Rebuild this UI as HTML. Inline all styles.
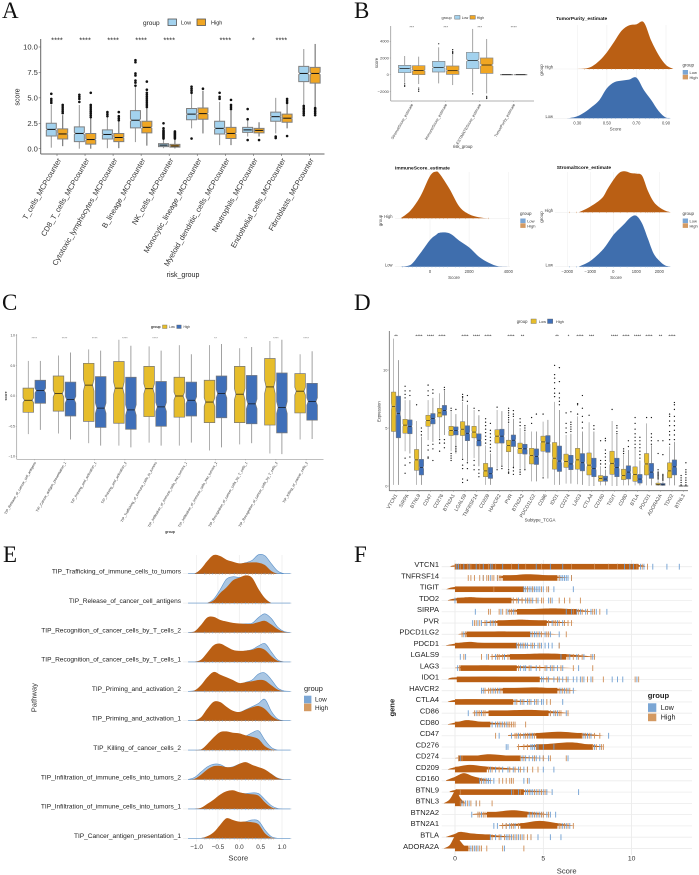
<!DOCTYPE html>
<html lang="en">
<head>
<meta charset="utf-8">
<title>Immune infiltration figure panels A-F</title>
<style>
html,body{margin:0;padding:0;background:#fff;width:699px;height:875px;overflow:hidden}
svg{display:block;font-family:"Liberation Sans",sans-serif;filter:blur(.3px)}
.pl{font-family:"Liberation Serif",serif;font-size:23px;fill:#111}
</style>
</head>
<body>
<svg id="figure" xmlns="http://www.w3.org/2000/svg" width="699" height="875" viewBox="0 0 699 875">
<rect x="0" y="0" width="699" height="875" fill="#fff"/>
<text class="pl" x="2" y="18">A</text>
<text class="pl" x="354" y="18">B</text>
<text class="pl" x="2" y="310">C</text>
<text class="pl" x="354" y="310">D</text>
<text class="pl" x="3" y="562">E</text>
<text class="pl" x="354" y="562">F</text>

<g id="panelA">
<text x="143" y="25" font-size="6.5" fill="#222">group</text>
<rect x="168" y="19" width="8.5" height="6.5" fill="#a3d2ee" stroke="#555" stroke-width=".8"/>
<text x="181" y="24.5" font-size="5.5" fill="#222">Low</text>
<rect x="197" y="19" width="8.5" height="6.5" fill="#f0a623" stroke="#555" stroke-width=".8"/>
<text x="211" y="24.5" font-size="5.5" fill="#222">High</text>
<text x="183" y="277" font-size="7" fill="#222" text-anchor="middle">risk_group</text>
<text transform="translate(19.5 97) rotate(-90)" font-size="7" fill="#222" text-anchor="middle">score</text>
</g>

<g id="panelB">
<text x="441.5" y="19" font-size="4" fill="#333">group</text>
<rect x="454.7" y="15.5" width="5.3" height="3.6" fill="#a3d2ee" stroke="#666" stroke-width=".5"/>
<text x="461.7" y="19" font-size="3.6" fill="#333">Low</text>
<rect x="470" y="15.5" width="5.3" height="3.6" fill="#f0a623" stroke="#666" stroke-width=".5"/>
<text x="476.7" y="19" font-size="3.6" fill="#333">High</text>
<text x="462.7" y="148" font-size="4.2" fill="#333" text-anchor="middle">risk_group</text>
<text transform="translate(378 63) rotate(-90)" font-size="4.2" fill="#333" text-anchor="middle">score</text>
</g>

<g id="ridgeTumor">
<text x="556" y="20" font-size="4.9" font-weight="bold" fill="#111">TumorPurity_estimate</text>
<text x="615.5" y="130.5" font-size="4.5" fill="#444" text-anchor="middle">Score</text>
<text transform="translate(543 70) rotate(-90)" font-size="4.5" fill="#444" text-anchor="middle">group</text>
<text x="682.5" y="66.5" font-size="4.5" fill="#333">group</text>
<rect x="682.7" y="70" width="5.3" height="4.6" fill="#7ba6d4"/>
<rect x="682.7" y="74.8" width="5.3" height="4.6" fill="#d49a62"/>
<text x="689.5" y="74" font-size="4" fill="#333">Low</text>
<text x="689.5" y="78.8" font-size="4" fill="#333">High</text>
</g>

<g id="ridgeImmune">
<text x="395" y="169.5" font-size="4.9" font-weight="bold" fill="#111">ImmuneScore_estimate</text>
<text x="454" y="279" font-size="4.5" fill="#444" text-anchor="middle">Score</text>
<text transform="translate(382 220.5) rotate(-90)" font-size="4.5" fill="#444" text-anchor="middle">group</text>
<text x="520" y="215" font-size="4.5" fill="#333">group</text>
<rect x="520.3" y="218.5" width="5.3" height="4.6" fill="#7ba6d4"/>
<rect x="520.3" y="223.3" width="5.3" height="4.6" fill="#d49a62"/>
<text x="527.2" y="222.5" font-size="4" fill="#333">Low</text>
<text x="527.2" y="227.3" font-size="4" fill="#333">High</text>
</g>

<g id="ridgeStromal">
<text x="556.7" y="169" font-size="4.9" font-weight="bold" fill="#111">StromalScore_estimate</text>
<text x="616" y="279" font-size="4.5" fill="#444" text-anchor="middle">Score</text>
<text transform="translate(543 217) rotate(-90)" font-size="4.5" fill="#444" text-anchor="middle">group</text>
<text x="682.5" y="215" font-size="4.5" fill="#333">group</text>
<rect x="682.7" y="218.5" width="5.3" height="4.6" fill="#7ba6d4"/>
<rect x="682.7" y="223.3" width="5.3" height="4.6" fill="#d49a62"/>
<text x="689.5" y="222.5" font-size="4" fill="#333">Low</text>
<text x="689.5" y="227.3" font-size="4" fill="#333">High</text>
</g>

<g id="panelC">
<text x="151" y="328" font-size="3.4" font-weight="bold" fill="#333">group</text>
<rect x="162.5" y="325" width="4.5" height="3.5" fill="#e6bd2b" stroke="#666" stroke-width=".4"/>
<text x="169" y="328" font-size="3.2" fill="#333">Low</text>
<rect x="176.7" y="325" width="4.5" height="3.5" fill="#3f6fb9" stroke="#666" stroke-width=".4"/>
<text x="183.5" y="328" font-size="3.2" fill="#333">High</text>
<text x="170" y="533" font-size="3.4" font-weight="bold" fill="#333" text-anchor="middle">group</text>
<text transform="translate(7 396) rotate(-90)" font-size="3.4" font-weight="bold" fill="#333" text-anchor="middle">score</text>
</g>

<g id="panelD">
<text x="516.7" y="323" font-size="4.2" fill="#333">group</text>
<rect x="531" y="319" width="5.3" height="4.5" fill="#e6bd2b" stroke="#666" stroke-width=".4"/>
<text x="539" y="323" font-size="3.8" fill="#333">Low</text>
<rect x="547.5" y="319" width="5.3" height="4.5" fill="#3f6fb9" stroke="#666" stroke-width=".4"/>
<text x="556" y="323" font-size="3.8" fill="#333">High</text>
<text x="540" y="521.5" font-size="4.4" fill="#333" text-anchor="middle">Subtype_TCGA</text>
<text transform="translate(380.5 411.7) rotate(-90)" font-size="4.2" fill="#333" text-anchor="middle">Expression</text>
</g>

<g id="panelE">
<text x="238.3" y="860.5" font-size="7.6" fill="#333" text-anchor="middle">Score</text>
<text transform="translate(36.5 697.7) rotate(-90)" font-size="7.6" fill="#333" text-anchor="middle">Pathway</text>
<text x="304" y="691" font-size="7.4" fill="#222">group</text>
<rect x="304" y="695.7" width="7.4" height="7.6" fill="#7ba6d4"/>
<rect x="304" y="703.6" width="7.4" height="7.6" fill="#d49a62"/>
<text x="315" y="701.7" font-size="6.4" fill="#222">Low</text>
<text x="315" y="709.8" font-size="6.4" fill="#222">High</text>
</g>

<g id="panelF">
<text x="566.7" y="873.5" font-size="7.6" fill="#333" text-anchor="middle">Score</text>
<text transform="translate(394.5 707.7) rotate(-90)" font-size="7.6" font-weight="bold" fill="#222" text-anchor="middle">gene</text>
<text x="647.7" y="698" font-size="7.6" font-weight="bold" fill="#222">group</text>
<rect x="648" y="703.3" width="8.3" height="8.6" fill="#7ba6d4"/>
<rect x="648" y="712.6" width="8.3" height="8.6" fill="#d49a62"/>
<text x="660.7" y="710.2" font-size="7.2" fill="#222">Low</text>
<text x="660.7" y="719.5" font-size="7.2" fill="#222">High</text>
</g>
</svg>

<script>
/* ---------- Panel A data: [lower whisker, Q1, median, Q3, upper whisker] ---------- */
const aCategories = ["T_cells_MCPcounter","CD8_T_cells_MCPcounter","Cytotoxic_lymphocytes_MCPcounter","B_lineage_MCPcounter","NK_cells_MCPcounter","Monocytic_lineage_MCPcounter","Myeloid_dendritic_cells_MCPcounter","Neutrophils_MCPcounter","Endothelial_cells_MCPcounter","Fibroblasts_MCPcounter"];
const aLowStats = [[0.1,1.25,1.9,2.5,4.3],[0,0.7,1.5,2.15,4.3],[0.05,0.95,1.4,1.85,3.1],[0.65,2.05,2.8,3.75,6.1],[0.05,0.2,0.35,0.5,1],[2,2.85,3.4,3.95,5.4],[0.35,1.45,2,2.7,4.6],[1.2,1.6,1.85,2.1,2.8],[1.5,2.7,3.15,3.6,5],[4.3,6.6,7.4,8.1,9.8]];
const aHighStats = [[0.25,0.95,1.45,1.95,3.3],[0,0.45,0.9,1.5,3],[0.05,0.7,1.1,1.5,2.7],[0.3,1.55,2.1,2.7,4],[0.03,0.15,0.27,0.42,0.9],[1.5,2.9,3.45,4,5.7],[0.35,1,1.5,2.1,3.8],[1.2,1.55,1.8,2,2.6],[2,2.6,3,3.4,4.4],[4.1,6.45,7.4,8,10.3]];
const aLowOutliers = [[4.5,4.7,4.9,5.4],[4.6,4.9,5.1,5.3],[3.2,3.4,3.6],[6.2,6.5,6.7,7.2,7.4,8.5,8.7],[1,1.1,1.2,1.3,1.4,1.5,1.6,1.7,1.8,2,2.5],[1,5.5,5.7,5.9,6.1],[4.9,5.1,5.5],[0.85,2.9,3.9],[1.05,1.2],[3.3,3.5,3.7,3.9,4,4.2]];
const aHighOutliers = [[3.5,3.7,3.9,4.1,4.3],[3.1,3.3,3.5,3.7,3.9,4.1,4.3,5.5],[2.8,3,3.2,3.6],[4.1,4.3,4.5,4.7,4.9,5.1,5.3,5.5,5.8,6.6],[1,1.1,1.2,1.3,1.4,1.5,1.6,1.7],[5.9],[3.9,4.1,4.3,4.8],[0.85],[1.25,4.5,4.7,4.9],[3.3,3.5,3.7,3.9,4]];
const aStars = ["****","****","****","****","****","","****","*","****",""];
const aYTicks = [0,2.5,5,7.5,10];
const aYLabels = ["0.0","2.5","5.0","7.5","10.0"];

/* ---------- Panel B box data ---------- */
const bCategories = ["StromalScore_estimate","ImmuneScore_estimate","ESTIMATEScore_estimate","TumorPurity_estimate"];
const bLowStats = [[-960,240,760,1120,2240],[-1040,320,880,1600,3280],[-2040,720,1720,2680,5480],[-40,-30,0,30,40]];
const bHighStats = [[-1120,0,520,1080,2160],[-1240,40,480,1040,2360],[-2240,160,1160,2000,4280],[-40,-30,0,30,40]];
const bLowOutliers = [[-1100,-1300,-1400],[3700],[-2300],[]];
const bHighOutliers = [[-1600,-1800,-2000],[2500,2600,2700,2800,3000],[-2600,-2750,-2850],[]];
const bStars = ["***","***","***","****"];
const bYTicks = [-2000,0,2000,4000];
const bYLabels = ["\u22122000","0","2000","4000"];

/* ---------- Panel B ridge data ---------- */
const tumorScores = [0.2,0.25,0.3,0.35,0.4,0.45,0.5,0.55,0.6,0.65,0.7,0.75,0.8,0.85,0.9,0.95];
const tumorLow = [0,1,6,18,35,55,90,108,113,116,122,85,55,22,2,0];
const tumorHigh = [0,0,0,1,8,25,50,82,115,131,134,140,85,42,12,0];
const tumorTicks = [0.3,0.5,0.7,0.9];
const tumorTickLabels = ["0.30","0.50","0.70","0.90"];
const tumorRug = [0.35,0.38,0.41,0.44,0.47,0.5,0.53,0.56,0.6,0.64,0.68,0.72,0.76,0.79,0.82,0.85,0.88,0.92];
const immuneScores = [-1500,-1000,-500,0,300,500,1000,1500,2000,2500,3000,3500,4000];
const immuneLow = [0,5,40,80,95,102,100,78,58,30,12,1,0];
const immuneHigh = [0,23,65,127,140,133,88,35,12,3,0,0,0];
const immuneTicks = [0,2000,4000];
const immuneTickLabels = ["0","2000","4000"];
const immuneRug = [-1400,-1100,-900,-700,-500,-300,-100,100,300,500,700,900,1300,1500,1800,2200,2500,3000];
const stromalScores = [-1500,-1000,-500,-250,0,250,500,750,1000,1250,1500,1750,2000,2250,2500];
const stromalLow = [0,17,48,70,95,113,130,148,153,130,85,40,18,4,0];
const stromalHigh = [0,17,42,70,97,118,123,118,116,110,65,32,15,5,0];
const stromalTicks = [-2000,-1000,0,1000,2000];
const stromalTickLabels = ["\u22122000","\u22121000","0","1000","2000"];
const stromalRug = [-1900,-1600,-1300,-1100,-900,-600,-300,0,300,600,900,1200,1400,1500,1600,1700,1800,2000];

/* ---------- Panel C data ---------- */
const cCategories = ["TIP_Release_of_cancer_cell_antigens","TIP_Cancer_antigen_presentation_1","TIP_Priming_and_activation_1","TIP_Priming_and_activation_2","TIP_Trafficking_of_immune_cells_to_tumors","TIP_Infiltration_of_immune_cells_into_tumors_1","TIP_Infiltration_of_immune_cells_into_tumors_2","TIP_Recognition_of_cancer_cells_by_T_cells_1","TIP_Recognition_of_cancer_cells_by_T_cells_2","TIP_Killing_of_cancer_cells_2"];
const cLowStats = [[-0.63,-0.27,-0.07,0.13,0.58],[-0.62,-0.25,0.04,0.33,0.67],[-0.78,-0.42,0.18,0.54,0.77],[-0.82,-0.45,0.13,0.57,0.93],[-0.77,-0.34,0.12,0.49,0.82],[-0.82,-0.35,0,0.31,0.84],[-0.9,-0.44,-0.1,0.26,0.84],[-0.8,-0.44,0.03,0.49,0.79],[-0.95,-0.48,0.15,0.62,0.91],[-0.72,-0.28,0.08,0.37,0.69]];
const cHighStats = [[-0.56,-0.12,0.09,0.26,0.58],[-0.72,-0.33,-0.06,0.23,0.72],[-0.82,-0.52,-0.2,0.32,0.75],[-0.85,-0.55,-0.23,0.31,0.83],[-0.82,-0.5,-0.18,0.24,0.75],[-0.77,-0.33,-0.07,0.23,0.69],[-0.85,-0.36,0.04,0.33,0.86],[-0.78,-0.46,-0.13,0.34,0.81],[-0.96,-0.61,-0.19,0.38,0.93],[-0.71,-0.4,-0.09,0.21,0.74]];
const cStars = ["****","****","****","****","****","","**","**","****","****"];
const cYTicks = [-1,-0.5,0,0.5,1];
const cYLabels = ["\u22121.0","\u22120.5","0.0","0.5","1.0"];

/* ---------- Panel D data ---------- */
const dCategories = ["VTCN1","SIRPA","BTNL9","CD47","CD276","BTN2A1","LGALS9","TNFRSF14","CD209","HAVCR2","PVR","BTN2A2","PDCD1LG2","CD86","IDO1","CD274","LAG3","CTLA4","CD160","TIGIT","CD80","BTLA","PDCD1","ADORA2A","TDO2","BTNL3"];
const dLowStats = [[0.1,4.7,6.85,8.1,12.7],[3,4.55,5.25,5.75,7.4],[0.1,1.35,2.25,3.15,5.6],[3.95,5.15,5.65,6.1,7.4],[4.1,5.95,6.3,6.7,8],[3,4.35,4.8,5.15,6.4],[2.4,4.35,4.9,5.55,7.25],[2.4,4.15,4.65,5.15,6.55],[0.1,0.8,1.3,1.95,3.5],[1.5,3.7,4.3,4.85,6.55],[1.5,2.95,3.5,3.95,5.4],[1.5,2.8,3.25,3.7,5],[0.4,1.9,2.65,3.25,4.7],[0.8,3,3.8,4.3,5.55],[0.1,1.45,2.4,3.75,7.25],[0.2,1.6,2.1,2.75,4.4],[0.15,1.45,2.25,3.25,6],[0,0.95,1.8,2.85,5.5],[0.05,0.4,0.65,0.9,1.7],[0,1,1.95,3,5.6],[0.05,0.55,0.9,1.45,2.7],[0.05,0.4,1,1.65,3.2],[0.05,0.95,1.9,2.8,5.4],[0,0.08,0.15,0.25,0.5],[0.05,0.7,1.3,2,3.4],[0,0,0,0,0.05]];
const dHighStats = [[0.1,4.15,6.25,7.75,10.85],[2.8,4.5,5.15,5.7,7.4],[0.1,0.95,1.6,2.3,4.25],[3.8,5.35,5.8,6.25,7.6],[4.4,6.1,6.5,6.95,8.2],[2.8,4.4,4.8,5.1,6.2],[2.1,3.9,4.55,5.2,7],[1.7,3.45,3.95,4.5,6.1],[0.1,0.65,1.05,1.6,2.8],[1.7,3.7,4.3,4.9,6.45],[1.5,3.4,3.95,4.4,5.8],[1.4,2.75,3.2,3.6,4.7],[0.4,1.85,2.55,3.2,4.7],[0.65,2.9,3.7,4.35,5.7],[0.1,1.25,2.15,3.45,6.55],[0.2,1.4,1.9,2.65,4.5],[0.1,1.3,2,2.8,4.7],[0,0.8,1.5,2.4,4.7],[0.05,0.4,0.6,0.85,1.4],[0,0.8,1.6,2.4,4.4],[0.05,0.6,1.2,1.75,3.1],[0.05,0.25,0.6,1,2.2],[0.05,0.65,1.2,1.95,3.5],[0,0.05,0.15,0.22,0.4],[0.05,0.95,1.65,2.25,3.8],[0,0,0,0,0.05]];
const dLowOutliers = [[],[7.6,7.9,8.2,8.6,1.1,1.8,2.4],[7],[7.8,8.2,8.7,3.5,3.1,2.4,2.5],[3,3.7,4],[6.7,6.5,2.2,2.4,2.6,2.8],[7.4,7.6,7.7,7.9,0.3,0.6,1.5,1.8,2.3],[6.7,1.4,1.8,2.2],[3.7,4,4.3,4.6,4.9,5.2,5.5,5.8],[6.8,1.4],[5.5,5.7,5.9,6.1,6.3,6.5,6.7,1.1,1.2,1.4],[5.2,5.5,5.8,1.4,1.2,1],[5.4,5.9],[0.7,6.2],[7.7,8,8.4,8.9,9.3,9.6,10.4],[4.6,5,5.4,6.3],[6.2,7,7.1],[6.1],[1.9,2.2,3.9],[6.6],[2.8,3,3.2],[3.3,3.6,3.9,4.2,4.5,4.9,5.4,5.9],[5.9],[0.6,0.7,0.8,0.9,1,1.1,1.2,1.4,2.8,3.9],[3.6,4,4.4,4.7,5.2,5.6,6,6.2],[0.1,0.3,0.5,0.7,0.9]];
const dHighOutliers = [[],[7.8,8.2,2,2.5],[4.4,4.7,5],[8,8.3,3.6,3.2,2.2],[8.3,8.5,3.3,3.7,4],[6.6,3,3.2,3.4],[7.3,7.8,0.5,2,1.5],[6.5,0.8,1.1,1.4],[3,3.3,3.6,3.9,4.2,4.5,4.8,5.4],[1.5,1.7],[6,6.2,6.5,1,1.3,1.6],[4.8,5,5.2,1.4],[6.2],[],[7,7.3,7.6,8,9,10.2],[4.7,4.9,5.1,5.3,5.5,6.4],[5,5.5,6,6.7,7.8],[4.9,5.2],[1.6,1.9,2.2,2.5,2.8,3.1,3.9,4.1],[4.5,4.7,5,5.2],[3.4,3.9],[2.4,2.7,3,3.3,3.6,3.9,4.2],[3.6,3.9,4.2,4.5,5.9],[0.5,0.6,0.7,0.8,0.9,1,2.7,3.9],[4,4.4,4.8,5.2,5.6,6,6.6,7,7.2],[0.1,0.3,0.5,0.7,1,1.2,1.4,2]];
const dStars = ["**","","****","****","****","","****","****","****","","****","**","","","**","*","****","***","","****","****","****","****","**","****",""];
const dYTicks = [0,5,10];
const dYLabels = ["0","5","10"];

/* ---------- Panel E data ---------- */
const eCategories = ["TIP_Trafficking_of_immune_cells_to_tumors","TIP_Release_of_cancer_cell_antigens","TIP_Recognition_of_cancer_cells_by_T_cells_2","TIP_Recognition_of_cancer_cells_by_T_cells_1","TIP_Priming_and_activation_2","TIP_Priming_and_activation_1","TIP_Killing_of_cancer_cells_2","TIP_Infiltration_of_immune_cells_into_tumors_2","TIP_Infiltration_of_immune_cells_into_tumors_1","TIP_Cancer_antigen_presentation_1"];
const eScores = [-1.2,-1.05,-0.9,-0.75,-0.6,-0.45,-0.3,-0.15,0,0.15,0.3,0.45,0.6,0.75,0.9,1.05,1.2];
const eLowDensity = [
[0,0,12,34,52,50,40,33,29,33,40,57,54,30,8,0,0],
[0,0,0,0,12,40,72,79,77,80,72,40,13,0,0,0,0],
[0,2,20,42,45,36,31,27,26,26,28,45,56,42,16,3,0],
[0,0,5,25,47,52,43,34,31,33,37,48,55,30,6,0,0],
[0,2,15,38,53,47,38,30,22,27,34,52,55,35,10,1,0],
[0,0,8,32,53,52,38,28,25,33,42,52,64,28,5,0,0],
[0,0,1,15,34,50,52,50,49,43,52,58,30,8,0,0,0],
[0,6,22,38,46,45,36,38,46,50,42,35,28,16,4,0,0],
[0,0,2,12,24,40,50,52,48,46,48,46,28,10,1,0,0],
[0,0,0,5,15,35,57,52,47,50,55,52,25,5,0,0,0]];
const eHighDensity = [
[0,0,14,38,56,53,42,36,31,33,34,33,26,8,0,0,0],
[0,0,0,0,8,30,47,68,76,83,76,42,15,0,0,0,0],
[0,3,22,45,47,38,33,29,27,26,26,31,35,24,10,2,0],
[0,0,6,28,50,55,46,36,33,34,36,42,36,17,3,0,0],
[0,2,18,42,58,50,42,34,25,27,30,34,32,18,5,0,0],
[0,0,10,36,57,56,42,30,26,33,40,44,35,15,3,0,0],
[0,0,1,18,38,54,56,52,50,44,40,33,12,2,0,0,0],
[0,2,14,30,40,41,37,38,47,52,44,37,30,17,4,0,0],
[0,0,3,15,28,43,53,56,50,46,44,40,20,5,0,0,0],
[0,0,0,6,18,40,60,55,50,50,48,42,15,2,0,0,0]];
const eRug = [-0.82,-0.78,-0.7,-0.62,-0.55,-0.47,-0.4,-0.33,-0.22,-0.12,-0.05,0.06,0.14,0.22,0.31,0.38,0.46,0.52,0.58,0.62,0.68,0.72,0.76,0.8];
const eXTicks = [-1,-0.5,0,0.5,1];
const eXLabels = ["\u22121.0","\u22120.5","0.0","0.5","1.0"];

/* ---------- Panel F data ---------- */
const fGenes = ["VTCN1","TNFRSF14","TIGIT","TDO2","SIRPA","PVR","PDCD1LG2","PDCD1","LGALS9","LAG3","IDO1","HAVCR2","CTLA4","CD86","CD80","CD47","CD276","CD274","CD209","CD160","BTNL9","BTNL3","BTN2A2","BTN2A1","BTLA","ADORA2A"];
const fBandRanges = [[0,10.4],[2.7,5.8],[0,3.9],[0.1,3.2],[3.5,6.9],[2.4,5.2],[0.65,4.25],[0,3.5],[3.1,6.3],[0.3,3.5],[0.1,4.8],[2.7,5.8],[0,3.3],[1.9,5.3],[0,2],[4.6,7.2],[4.6,7.8],[0.2,3.7],[0,1.8],[0,1.4],[0.05,3.9],[0,0.35],[1.8,4.1],[3.7,5.8],[0,2],[0,0.75]];
const fRugLow = [
[0.1,0.2,0.5,0.8,1.2,1.6,2,2.1,2.7,3.6,4.6,5.4,6.1,9.6,9.9,10.1,10.5,10.7,11.2,12,12.7],
[1.6,2,2.4,5.9,6,6.1,6.2,6.3,6.4,6.6],
[3.9,4,4.1,4.2,4.3,4.4,4.5,4.6,4.7,4.8,5,5.3,5.6,6.7],
[0,3.3,3.6,3.8,4,4.2,4.4,4.7,5.3,5.5],
[1.15,2.6,3,3.3,6.3,6.6,6.9,7.1,7.4,7.7,8,8.6],
[1,1.3,1.5,1.8,2,2.2,5.3,5.5,5.8,6.1],
[0.5,4.3,4.5,4.6,4.8,5.1,5.4,5.9],
[3.5,3.7,3.8,4,4.1,4.3,4.5,4.7,4.9,5.1,5.3,5.5,5.9],
[0.3,0.6,1.8,2.3,2.8,6,6.5,6.9,7.3,7.8],
[0.15,3.7,3.9,4,4.3,4.6,5.2,5.4,5.6,5.8,6.1,7],
[4.9,5,5.3,5.6,5.9,6.1,6.4,6.7,6.9,7.1,7.3,7.7,8.9,9.2,9.5,10.3],
[1.5,1.6,2.1,2.3,2.5,6,6.2,6.4,6.7],
[3.4,3.7,3.9,4.1,4.3,4.5,4.7,4.9,5,6.1],
[0.75,1.2,1.5,5.4,5.6,5.8,6.3],
[2.1,2.3,2.5,2.7,2.9,3],
[2.5,3.2,3.6,3.9,4.2,4.4,7.3,7.5,7.7,8.7],
[2.9,3,4.3,4.4,4.5,4.7,5,5.6,7.9,8.2],
[0.3,3.8,4,4.2,4.4,4.6,4.8,5,5.3,6.4],
[2,2.3,2.7,3,3.3,3.6,3.9,4.1,5,5.6],
[1.4,1.5,1.6,1.7,1.8,1.9,2,2.2,3.9,4.2],
[3.2,3.6,4,4.1,4.3,4.4,4.6,4.8,5,5.2,5.5,7],
[0.4,0.6,0.8,1.2],
[0.95,1.3,1.5,4.2,4.4,4.6,4.8,5,5.2,5.4,5.7],
[2.2,2.4,2.9,3.1,3.4,5.9,6.1,6.3,6.5],
[2,2.3,2.6,2.9,3,3.2,3.4,3.6,3.8,4.3,4.7,5.4,6],
[0.9,1,1.1,1.2,1.3,2.8]];
const fRugHigh = [
[0,0.3,0.7,0.9,1.4,1.9,2.3,3.2,4,4.9,6.6,7.9,8.7,9.2,10.3,10.6,10.9],
[0.75,0.9,1.1,1.4,1.6,1.8,1.9,2.1,2.2,2.4,2.5,2.6,5.9,6.6],
[2.2,4.1,4.4,4.9,5.2,5.3],
[3.3,3.5,3.8,4.1,4.3,4.6,4.9,5,5.4,5.9,6.2,6.5,7.1],
[1.9,2,2.5,2.7,2.9,3.1,3.2,3.4,6.7,7,7.2,7.5,7.8,7.9,8.2],
[1.1,1.2,1.4,1.7,2.1,2.3,5.3,5.6,5.7,5.9,6.2,6.4,6.6],
[0.4,0.6,4.4,4.7,4.9,5.2,5.3,6.3],
[3.6,3.9,4.4,4.8,5.9],
[0.5,1.5,1.9,2.1,2.4,2.5,2.7,3,6.4,6.7,7,7.2,7.7,7.9],
[0.25,3.6,4.2,4.8,5.1,5.5,6,6.7,7.8],
[5.2,5.8,6.3,7.2,7.5,7.8,8.4,10.2,10.4],
[1.7,1.9,2,2.2,2.4,2.6,5.9,6.1,6.3,6.5],
[3.5,3.8,4.2,4.6,5.2,5.4],
[1.1,1.3,1.4,1.6,1.7,5.4,5.7,5.9,6,6.4],
[2.4,2.6,2.8,3,3.1,3.2,3.3,3.4,4],
[2.3,3.4,3.5,3.7,4,4.1,4.3,4.5,7.2,7.4,7.6,7.9,8.2],
[3.6,3.9,4.1,4.6,7.8,8,8.3,8.4],
[0.2,0.4,3.7,3.9,4.5,5,5.4,6.3],
[1.9,2.1,2.5,3.1,3.4,3.7,4.1,4.4,4.7],
[1.5,1.7,2.5,2.7,2.9,3.1,3.2,3.3,4.1],
[0.3,3.3,3.7,4.2,4.5,4.7,4.9,5.1],
[0.3,0.5,0.7,0.9,1.2,1.4,2.1],
[1.3,1.4,1.6,1.7,4.3,4.5,4.7,4.9,5,5.3],
[2.7,2.9,3.2,3.3,3.6,5.9,6,6.2,6.4,6.7],
[2.1,2.5,2.8,3.1,3.3,3.5,3.7,3.9,4.1,4.3],
[0.8,1,1.2,1.4,1.5,1.8,2.7,3.9]];
const fDensity = [
[[-0.3,0],[0.5,6],[5,7],[10,6],[10.8,0]],
[[2.5,5],[3.3,8],[4,11],[4.7,10],[5.5,6],[6.5,0]],
[[-0.5,0],[0,7],[1,7],[3,5],[5,0]],
[[-0.4,1],[0,6],[0.8,10],[1.5,8],[3,5],[5,0]],
[[3,4],[4,7],[5.3,10],[6.5,8],[8,0]],
[[1.5,2],[2.5,7],[3.5,10],[4.2,9],[5.5,5],[6.8,0]],
[[0.2,1],[1,6],[2.7,9],[4,5],[6,0]],
[[-0.5,1],[0,6],[0.8,11],[1.5,8],[3,5],[5,0]],
[[2,2],[3,6],[5,10],[6.5,7],[8,0]],
[[0,1],[1,7],[2,8],[4,5],[7,0]],
[[-0.4,1],[0,6],[2,8],[4,5],[7,0]],
[[1.5,2],[3,7],[4.5,10],[5.5,7],[7,0]],
[[-0.4,1],[0,6],[1,8],[3,5],[5,0]],
[[1,2],[2.5,7],[4,10],[5,8],[6.5,0]],
[[-0.4,1],[0.2,8],[0.7,13],[1.5,8],[2.5,4],[3.5,0]],
[[3,2],[4.5,7],[5.8,12],[7,8],[8.5,0]],
[[3.5,2],[5,8],[6.5,14],[7.5,8],[8.5,0]],
[[0,1],[1,6],[2,12],[3.5,5],[5.5,0]],
[[-0.4,1],[0,7],[0.8,14],[1.6,10],[2.5,6],[4.2,0]],
[[-0.5,2],[0,12],[0.5,23],[1,14],[1.6,6],[2.2,0]],
[[-0.3,2],[0.2,7],[2,7],[4,5],[5.5,0]],
[[-0.65,0],[-0.3,12],[0,39],[0.1,40],[0.3,16],[0.6,0]],
[[1,2],[2,6],[3.2,13],[4.2,8],[5.5,0]],
[[2.5,2],[3.8,8],[4.8,15],[5.8,8],[6.8,0]],
[[-0.5,1],[0,10],[0.3,16],[1,11],[2,7],[3.5,0]],
[[-0.65,0],[-0.3,10],[0.05,40],[0.3,22],[0.6,5],[1,0]]];
const fXTicks = [0,5,10];
const fXLabels = ["0","5","10"];

/* ---------- helpers ---------- */
const NS = "http://www.w3.org/2000/svg";
function mk(tag, attrs, parent, txt){
  const el = document.createElementNS(NS, tag);
  for (const k in attrs) el.setAttribute(k, attrs[k]);
  if (txt !== undefined) el.textContent = txt;
  parent.appendChild(el);
  return el;
}
function linear(d0, d1, r0, r1){ return v => r0 + (v - d0) * (r1 - r0) / (d1 - d0); }

function smoothArea(points, base){
  let d = "M" + points[0][0] + "," + base + "L" + points[0][0] + "," + points[0][1];
  for (let i = 0; i < points.length - 1; i++){
    const p0 = points[Math.max(i - 1, 0)], p1 = points[i], p2 = points[i + 1], p3 = points[Math.min(i + 2, points.length - 1)];
    const c1x = p1[0] + (p2[0] - p0[0]) / 6, c1y = Math.min(base, p1[1] + (p2[1] - p0[1]) / 6);
    const c2x = p2[0] - (p3[0] - p1[0]) / 6, c2y = Math.min(base, p2[1] - (p3[1] - p1[1]) / 6);
    d += "C" + c1x + "," + c1y + " " + c2x + "," + c2y + " " + p2[0] + "," + p2[1];
  }
  return d + "L" + points[points.length - 1][0] + "," + base + "Z";
}

function drawBoxSeries(parent, stats, outliers, st, xOf, y){
  stats.forEach((s, i) => {
    const g = mk("g", {}, parent);
    
    
    const x = xOf(i), w = st.w;
    const wh = mk("line", {x1:x, x2:x, y1:y(s[0]), y2:y(s[4]), stroke:st.whisker, "stroke-width":st.whiskerW}, g);
    
    
    const iqr = s[3] - s[1];
    const nU = Math.min(s[3], s[2] + iqr * st.notch), nL = Math.max(s[1], s[2] - iqr * st.notch);
    const ins = w * st.inset;
    const d = "M" + (x - w / 2) + "," + y(s[3]) + "H" + (x + w / 2) + "V" + y(nU) + "L" + (x + w / 2 - ins) + "," + y(s[2]) +
      "L" + (x + w / 2) + "," + y(nL) + "V" + y(s[1]) + "H" + (x - w / 2) + "V" + y(nL) + "L" + (x - w / 2 + ins) + "," + y(s[2]) +
      "L" + (x - w / 2) + "," + y(nU) + "Z";
    const body = mk("path", {d:d, fill:st.fill, stroke:st.stroke, "stroke-width":st.strokeW}, g);
    
    
    const med = mk("line", {x1:x - w / 2 + ins, x2:x + w / 2 - ins, y1:y(s[2]), y2:y(s[2]), stroke:"#111", "stroke-width":st.medianW}, g);
    
    
    (outliers[i] || []).forEach(o => {
      const c = mk("circle", {cx:x, cy:y(o), r:st.outR, fill:"#111"}, g);
      
      
    });
  });
}

function drawBoxPanel(id, c, cats, low, high, lowOut, highOut, stars, yTicks, yLabels){
  const root = document.getElementById(id);
  const y = linear(c.d0, c.d1, c.r0, c.r1);
  const xCat = i => c.x0 + i * c.step;
  const xAxis = mk("line", {x1:c.axisX, x2:c.axisRight, y1:c.axisY, y2:c.axisY, stroke:c.axisColor, "stroke-width":c.axisW}, root);
  
  
  const yAxis = mk("line", {x1:c.axisX, x2:c.axisX, y1:c.axisTop, y2:c.axisY, stroke:c.axisColor, "stroke-width":c.axisW}, root);
  
  
  yTicks.forEach((t, i) => {
    const tk = mk("line", {x1:c.axisX - c.tick, x2:c.axisX, y1:y(t), y2:y(t), stroke:c.axisColor, "stroke-width":c.axisW * .6}, root);
    
    
    const tl = mk("text", {x:c.axisX - c.tick - .8, y:y(t) + c.yFont * .35, "font-size":c.yFont, fill:c.textColor, "text-anchor":"end"}, root, yLabels[i]);
    
    
  });
  cats.forEach((n, i) => {
    const x = xCat(i);
    const tk = mk("line", {x1:x, x2:x, y1:c.axisY, y2:c.axisY + c.tick, stroke:c.axisColor, "stroke-width":c.axisW * .6}, root);
    
    
    const lx = x + c.labelDx, ly = c.axisY + c.labelDy;
    const tl = mk("text", {x:lx, y:ly, "font-size":c.xFont, fill:c.textColor, "text-anchor":"end", transform:"rotate(" + c.angle + " " + lx + " " + ly + ")"}, root, n);
    
    
    if (stars[i]) {
      const st = mk("text", {x:x, y:c.starY, "font-size":c.starFont, fill:c.starColor, "text-anchor":"middle"}, root, stars[i]);
      
      
    }
  });
  const gl = mk("g", {}, root);
  
  
  drawBoxSeries(gl, low, lowOut, Object.assign({}, c.box, {fill:c.lowFill, whisker:c.lowWhisker}), i => xCat(i) - c.off, y);
  const gh = mk("g", {}, root);
  
  
  drawBoxSeries(gh, high, highOut, Object.assign({}, c.box, {fill:c.highFill, whisker:c.highWhisker}), i => xCat(i) + c.off, y);
}

const noOutliers = [];

drawBoxPanel("panelA", {d0:0,d1:10,r0:148.7,r1:47,x0:57,step:28.05,off:5.7,axisX:40.7,axisRight:324.5,axisY:154,axisTop:39,axisColor:"#666",axisW:1,tick:2,yFont:7.6,xFont:7.5,textColor:"#333",angle:-60,labelDx:4.5,labelDy:6,starY:42.5,starFont:7.5,starColor:"#222",lowFill:"#a3d2ee",highFill:"#f0a623",lowWhisker:"#a0a0a0",highWhisker:"#6e6e6e",box:{w:10,stroke:"#808080",strokeW:1,whiskerW:1.1,medianW:1,notch:.08,inset:.12,outR:1.3}},
  aCategories, aLowStats, aHighStats, aLowOutliers, aHighOutliers, aStars, aYTicks, aYLabels);

drawBoxPanel("panelB", {d0:0,d1:4000,r0:74.7,r1:41.3,x0:411.7,step:34,off:7,axisX:390.7,axisRight:534,axisY:101,axisTop:26,axisColor:"#999",axisW:.8,tick:1,yFont:4,xFont:3.9,textColor:"#444",angle:-60,labelDx:1.7,labelDy:3.6,starY:28.5,starFont:4,starColor:"#666",lowFill:"#a3d2ee",highFill:"#f0a623",lowWhisker:"#8f8f8f",highWhisker:"#8f8f8f",box:{w:12.5,stroke:"#888",strokeW:.7,whiskerW:.8,medianW:.7,notch:.08,inset:.12,outR:.6}},
  bCategories, bLowStats, bHighStats, bLowOutliers, bHighOutliers, bStars, bYTicks, bYLabels);

drawBoxPanel("panelC", {d0:0,d1:1,r0:396,r1:335.5,x0:34.3,step:30.2,off:6,axisX:16.7,axisRight:323.5,axisY:459.3,axisTop:334,axisColor:"#999",axisW:.7,tick:1,yFont:3.2,xFont:3.5,textColor:"#333",angle:-60,labelDx:1.9,labelDy:3.4,starY:339.5,starFont:3.6,starColor:"#888",lowFill:"#e6bd2b",highFill:"#3f6fb9",lowWhisker:"#9b9b9b",highWhisker:"#8a8a8a",box:{w:10.6,stroke:"#777",strokeW:.7,whiskerW:.8,medianW:.7,notch:.1,inset:.14,outR:.5}},
  cCategories, cLowStats, cHighStats, noOutliers, noOutliers, cStars, cYTicks, cYLabels);

drawBoxPanel("panelD", {d0:0,d1:5,r0:486,r1:428,x0:396,step:11.5,off:2.4,axisX:389.3,axisRight:688,axisY:490.7,axisTop:331,axisColor:"#666",axisW:.8,tick:1,yFont:4,xFont:5,textColor:"#444",angle:-60,labelDx:1.5,labelDy:4.5,starY:337.5,starFont:4.6,starColor:"#222",lowFill:"#e6bd2b",highFill:"#3f6fb9",lowWhisker:"#a8a8a8",highWhisker:"#8a8a8a",box:{w:4.5,stroke:"#777",strokeW:.5,whiskerW:.8,medianW:.55,notch:.08,inset:.12,outR:.65}},
  dCategories, dLowStats, dHighStats, dLowOutliers, dHighOutliers, dStars, dYTicks, dYLabels);

/* ---------- B ridges ---------- */
function drawSmallRidge(id, c, scores, low, high, ticks, labels, rug){
  const root = document.getElementById(id);
  const x = linear(c.tick0, c.tick1, c.px0, c.px1);
  ticks.forEach((t, i) => {
    const v = mk("line", {x1:x(t), x2:x(t), y1:c.top, y2:c.baseLow, stroke:"#efefef", "stroke-width":.6}, root);
    
    
    const l = mk("text", {x:x(t), y:c.tickY, "font-size":4.1, fill:"#444", "text-anchor":"middle"}, root, labels[i]);
    
    
  });
  [[c.baseHigh,"High",high,"#ba5f14","#d28a4c"],[c.baseLow,"Low",low,"#3f6ead","#7ba6d4"]].forEach(r => {
    const line = mk("line", {x1:c.left, x2:c.right, y1:r[0], y2:r[0], stroke:"#efefef", "stroke-width":.6}, root);
    
    
    const lab = mk("text", {x:c.labelX, y:r[0] - .4, "font-size":4.1, fill:"#444", "text-anchor":"end"}, root, r[1]);
    
    
    const pts = scores.map((s, i) => [x(s), r[0] - r[2][i] / 3]);
    const a = mk("path", {d:smoothArea(pts, r[0]), fill:r[3]}, root);
    
    
    rug.forEach(v => {
      const t = mk("line", {x1:x(v), x2:x(v), y1:r[0] - .6, y2:r[0] + .8, stroke:r[4], "stroke-width":.4}, root);
      
      
    });
  });
}
drawSmallRidge("ridgeTumor", {tick0:.3,tick1:.9,px0:577.3,px1:666,top:25,baseHigh:69,baseLow:118.3,left:545,right:670,labelX:553,tickY:124.5}, tumorScores, tumorLow, tumorHigh, tumorTicks, tumorTickLabels, tumorRug);
drawSmallRidge("ridgeImmune", {tick0:0,tick1:4000,px0:430,px1:508.3,top:172,baseHigh:218.3,baseLow:266.7,left:395,right:510,labelX:392.5,tickY:273}, immuneScores, immuneLow, immuneHigh, immuneTicks, immuneTickLabels, immuneRug);
drawSmallRidge("ridgeStromal", {tick0:-2000,tick1:2000,px0:567.3,px1:659.3,top:172,baseHigh:212.3,baseLow:266.7,left:555,right:670,labelX:553,tickY:273}, stromalScores, stromalLow, stromalHigh, stromalTicks, stromalTickLabels, stromalRug);

/* ---------- E ridges ---------- */
(function(){
  const root = document.getElementById("panelE");
  const x = linear(0, 1, 239.3, 282);
  const base = i => 573.7 + i * 29.4;
  eXTicks.forEach((t, i) => {
    const v = mk("line", {x1:x(t), x2:x(t), y1:555, y2:841.7, stroke:"#ececec", "stroke-width":.7}, root);
    
    
    const l = mk("text", {x:x(t), y:849, "font-size":6.4, fill:"#333", "text-anchor":"middle"}, root, eXLabels[i]);
    
    
  });
  eCategories.forEach((n, i) => {
    const b = base(i);
    const h = mk("line", {x1:183, x2:292, y1:b, y2:b, stroke:"#ececec", "stroke-width":.7}, root);
    
    
    const lab = mk("text", {x:181, y:b - .2, "font-size":6.55, fill:"#222", "text-anchor":"end"}, root, n);
    
    
  });
  for (let i = eCategories.length - 1; i >= 0; i--){
    const b = base(i);
    const lo = eScores.map((s, k) => [x(s), b - eLowDensity[i][k] / 3]);
    const hi = eScores.map((s, k) => [x(s), b - eHighDensity[i][k] / 3]);
    const la = mk("path", {d:smoothArea(lo, b), fill:"#a9c6e3", stroke:"#5a90c8", "stroke-width":.6}, root);
    
    
    const ha = mk("path", {d:smoothArea(hi, b), fill:"#ba5f14"}, root);
    
    
    eRug.forEach((v, k) => {
      if (eHighDensity[i][Math.round((v + 1.2) / .15)] === 0) return;
      const t = mk("line", {x1:x(v), x2:x(v), y1:b - .8, y2:b + 1.2, stroke:k % 3 === 0 ? "#7ba6d4" : "#d49a62", "stroke-width":.45}, root);
      
      
    });
  }
})();

/* ---------- F ridges ---------- */
(function(){
  const root = document.getElementById("panelF");
  const x = linear(0, 5, 455, 543.3);
  const base = i => 566.7 + i * 11.27;
  fXTicks.forEach((t, i) => {
    const v = mk("line", {x1:x(t), x2:x(t), y1:560, y2:855, stroke:"#e6e6e6", "stroke-width":.7}, root);
    
    
    const l = mk("text", {x:x(t), y:860.5, "font-size":6.8, fill:"#333", "text-anchor":"middle"}, root, fXLabels[i]);
    
    
  });
  fGenes.forEach((n, i) => {
    const b = base(i);
    const h = mk("line", {x1:441.7, x2:692, y1:b, y2:b, stroke:"#ececec", "stroke-width":.8}, root);
    
    
    const lab = mk("text", {x:439, y:b + .3, "font-size":7.5, fill:"#222", "text-anchor":"end"}, root, n);
    
    
  });
  fGenes.forEach((n, i) => {
    const b = base(i);
    const pts = fDensity[i].map(p => [x(p[0]), b - p[1] / 3]);
    const a = mk("path", {d:smoothArea(pts, b), fill:"#ba5f14"}, root);
    
    
    const r = fBandRanges[i];
    const band = mk("rect", {x:x(r[0]), y:b - 2.8, width:x(r[1]) - x(r[0]), height:5.6, fill:"#ba5f14"}, root);
    
    
    fRugLow[i].forEach(v => {
      const t = mk("line", {x1:x(v), x2:x(v), y1:b - 2.9, y2:b + 2.9, stroke:"#6f9fd2", "stroke-width":.9}, root);
      
      
    });
    fRugHigh[i].forEach(v => {
      const t = mk("line", {x1:x(v), x2:x(v), y1:b - 2.9, y2:b + 2.9, stroke:"#cf8d55", "stroke-width":.9}, root);
      
      
    });
  });
})();
</script>
</body>
</html>
